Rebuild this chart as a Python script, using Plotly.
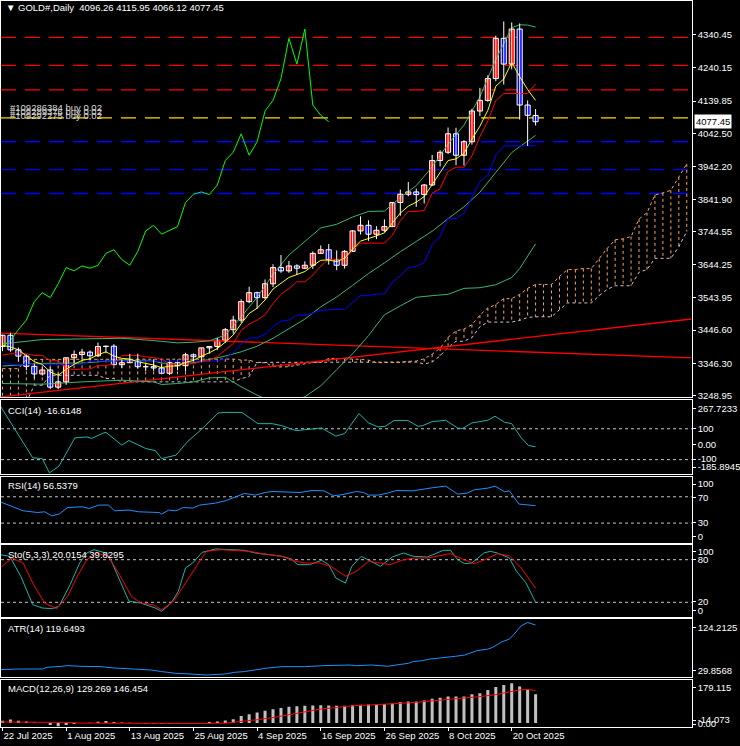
import plotly.graph_objects as go

# ---------------------------------------------------------------- data
dates = ["2025-07-22", "2025-07-23", "2025-07-24", "2025-07-25", "2025-07-28", "2025-07-29", "2025-07-30", "2025-07-31",
         "2025-08-01", "2025-08-04", "2025-08-05", "2025-08-06", "2025-08-07", "2025-08-08", "2025-08-11", "2025-08-12",
         "2025-08-13", "2025-08-14", "2025-08-15", "2025-08-18", "2025-08-19", "2025-08-20", "2025-08-21", "2025-08-22",
         "2025-08-25", "2025-08-26", "2025-08-27", "2025-08-28", "2025-08-29",
         "2025-09-01", "2025-09-02", "2025-09-03", "2025-09-04", "2025-09-05", "2025-09-08", "2025-09-09", "2025-09-10",
         "2025-09-11", "2025-09-12", "2025-09-15", "2025-09-16", "2025-09-17", "2025-09-18", "2025-09-19", "2025-09-22",
         "2025-09-23", "2025-09-24", "2025-09-25", "2025-09-26", "2025-09-29", "2025-09-30",
         "2025-10-01", "2025-10-02", "2025-10-03", "2025-10-06", "2025-10-07", "2025-10-08", "2025-10-09", "2025-10-10",
         "2025-10-13", "2025-10-14", "2025-10-15", "2025-10-16", "2025-10-17", "2025-10-20", "2025-10-21", "2025-10-22",
         "2025-10-23"]

opens = [3397, 3431, 3387, 3368, 3337, 3314, 3326, 3274,
         3290, 3363, 3373, 3380, 3369, 3397, 3398, 3342, 3348, 3356, 3336, 3336, 3332, 3316, 3348, 3339, 3372, 3366,
         3393, 3397, 3416,
         3448, 3477, 3533, 3560, 3545, 3587, 3636, 3626, 3641, 3634, 3643, 3679, 3690, 3660, 3643, 3685, 3747, 3764,
         3737, 3749, 3760, 3833,
         3858, 3865, 3857, 3886, 3960, 3985, 4041, 3976, 4017, 4110, 4142, 4208, 4330, 4252, 4358, 4128, 4096.26]
highs = [3433, 3439, 3394, 3373, 3345, 3334, 3334, 3315,
         3363, 3385, 3390, 3385, 3409, 3400, 3404, 3358, 3375, 3375, 3345, 3358, 3345, 3351, 3350, 3378, 3376, 3393,
         3397, 3423, 3453,
         3490, 3540, 3578, 3563, 3600, 3646, 3674, 3656, 3646, 3655, 3685, 3703, 3707, 3688, 3689, 3749, 3791, 3779,
         3761, 3782, 3834, 3872,
         3895, 3875, 3889, 3977, 3991, 4060, 4059, 4022, 4117, 4180, 4218, 4338, 4381, 4378, 4375, 4142, 4115.95]
lows = [3383, 3381, 3351, 3325, 3301, 3309, 3268, 3268,
        3281, 3346, 3358, 3357, 3365, 3377, 3342, 3332, 3347, 3330, 3323, 3323, 3315, 3311, 3325, 3322, 3352, 3351,
        3375, 3386, 3408,
        3436, 3469, 3528, 3511, 3540, 3577, 3620, 3620, 3614, 3632, 3632, 3679, 3645, 3628, 3633, 3684, 3736, 3717,
        3722, 3744, 3759, 3793,
        3852, 3820, 3830, 3883, 3942, 3980, 3946, 3945, 4008, 4095, 4138, 4200, 4190, 4236, 4084, 4004, 4066.12]
closes = [3431, 3387, 3368, 3337, 3314, 3326, 3274, 3290,
          3363, 3373, 3380, 3369, 3397, 3398, 3342, 3348, 3356, 3336, 3336, 3332, 3316, 3348, 3339, 3372, 3366, 3393,
          3397, 3416, 3448,
          3477, 3533, 3560, 3545, 3587, 3636, 3626, 3641, 3634, 3643, 3679, 3690, 3660, 3643, 3685, 3747, 3764, 3737,
          3749, 3760, 3833, 3858,
          3865, 3857, 3886, 3960, 3985, 4041, 3976, 4017, 4110, 4142, 4208, 4330, 4252, 4358, 4128, 4097, 4077.45]

# moving average (yellow), Ichimoku tenkan (red) / kijun (blue) / chikou (lime)
ma_yellow = [3400, 3396, 3387, 3370, 3351, 3343, 3320, 3310, 3328, 3343, 3355, 3360, 3372, 3381, 3368, 3361, 3359,
             3351, 3346, 3341, 3333, 3338, 3338, 3349, 3355, 3368, 3378, 3391, 3410, 3432, 3466, 3497, 3513, 3538,
             3571, 3589, 3606, 3615, 3624, 3642, 3658, 3659, 3654, 3664, 3692, 3716, 3723, 3732, 3741, 3772, 3801,
             3822, 3834, 3851, 3887, 3920, 3960, 3965, 3982, 4025, 4064, 4112, 4185, 4207, 4257, 4214, 4175, 4142]
tenkan = [3371, 3375, 3375, 3375, 3370, 3370, 3354, 3354, 3331, 3327, 3329, 3329, 3339, 3339, 3345, 3370, 3370,
          3370, 3366, 3363, 3360, 3343, 3343, 3345, 3345, 3352, 3354, 3367, 3388, 3406, 3446, 3465, 3477, 3493,
          3527, 3555, 3572, 3593, 3593, 3613, 3640, 3661, 3661, 3661, 3689, 3710, 3710, 3710, 3710, 3734, 3778,
          3806, 3806, 3809, 3861, 3875, 3927, 3940, 3940, 3974, 4032, 4080, 4141, 4163, 4163, 4163, 4163, 4192]
kijun = [3350, 3343, 3343, 3343, 3343, 3343, 3343, 3343, 3343, 3343, 3343, 3353, 3353, 3353, 3353, 3353, 3353,
         3353, 3353, 3353, 3353, 3353, 3353, 3353, 3353, 3353, 3353, 3353, 3360, 3379, 3404, 3423, 3423, 3434,
         3457, 3474, 3477, 3492, 3492, 3498, 3507, 3509, 3509, 3509, 3530, 3551, 3551, 3556, 3556, 3592, 3611,
         3635, 3640, 3651, 3706, 3730, 3785, 3785, 3800, 3847, 3897, 3916, 3976, 4004, 4004, 4004, 4004, 4005]
chikou = [3397, 3416, 3448, 3477, 3533, 3560, 3545, 3587, 3636, 3626, 3641, 3634, 3643, 3679, 3690, 3660, 3643,
          3685, 3747, 3764, 3737, 3749, 3760, 3833, 3858, 3865, 3857, 3886, 3960, 3985, 4041, 3976, 4017, 4110,
          4142, 4208, 4330, 4252, 4358, 4128, 4097, 4077.45]
# Ichimoku cloud (senkou span A / B, extends into the future)
span_a = [3330, 3330, 3330, 3358, 3358, 3358, 3358, 3358, 3358, 3358, 3358, 3358, 3358, 3358, 3358, 3358, 3358,
          3358, 3358, 3358, 3358, 3358, 3358, 3358, 3358, 3358,
          3360, 3359, 3359, 3359, 3356, 3356, 3348, 3348, 3337, 3335, 3336, 3341, 3346, 3349, 3349, 3361, 3361,
          3361, 3359, 3358, 3356, 3348, 3348, 3349, 3349, 3352, 3353, 3360, 3374, 3392, 3425, 3444, 3450, 3463,
          3492, 3514, 3524, 3542, 3542, 3555, 3573, 3585, 3585, 3585, 3609, 3630, 3630, 3633, 3633, 3663, 3694,
          3720, 3723, 3730, 3783, 3802, 3856, 3862, 3870, 3910, 3950]
span_b = [3228, 3228, 3228, 3228, 3280, 3280, 3310, 3310, 3310, 3310, 3310, 3310, 3310, 3300, 3300, 3290, 3290,
          3290, 3290, 3290, 3290, 3290, 3290, 3290, 3290, 3290, 3290, 3290, 3290, 3290, 3300, 3306,
          3349, 3349, 3349, 3349, 3349, 3349, 3349, 3349, 3349, 3349, 3349, 3349, 3349, 3349, 3349, 3349, 3349,
          3349, 3349, 3349,
          3350, 3344, 3350, 3369, 3394, 3413, 3413, 3424, 3457, 3471, 3471, 3471, 3471, 3476, 3485, 3487, 3487,
          3487, 3508, 3529, 3529, 3529, 3529, 3551, 3570, 3581, 3581, 3581, 3622, 3630, 3664, 3664, 3664, 3699, 3745]
# Bollinger bands (bar number, upper, middle, lower)
bb_bar = [0, 5, 10, 15, 19, 20, 22, 24, 26, 28, 30, 32, 34, 36, 38, 40, 42, 44, 46, 48, 50, 52, 54, 56, 58, 60,
          62, 64, 65, 66, 67]
bb_upper = [3405, 3418, 3420, 3422, 3415, 3412, 3408, 3410, 3414, 3432, 3487, 3546, 3615, 3674, 3715, 3756, 3767,
            3789, 3806, 3807, 3848, 3884, 3941, 4010, 4067, 4153, 4266, 4362, 4371, 4370, 4364]
bb_middle = [3338, 3346, 3347, 3356, 3353, 3347, 3344, 3348, 3358, 3368, 3381, 3398, 3422, 3450, 3480, 3517, 3547,
             3582, 3618, 3650, 3684, 3715, 3746, 3784, 3820, 3864, 3925, 3984, 4002, 4020, 4036]
bb_lower = [3285, 3283, 3290, 3295, 3290, 3282, 3285, 3290, 3302, 3304, 3275, 3250, 3229, 3226, 3245, 3278, 3327,
            3375, 3430, 3493, 3520, 3546, 3551, 3555, 3573, 3575, 3584, 3606, 3633, 3670, 3708]
# trend lines (bar number at the two ends, price)
trend_bar = [-0.19, 86.6]
trend_falling = [3437.7, 3362.7]
trend_rising = [3244.5, 3480.3]
# order / stop / target levels
levels_red = [4332.9, 4247.9, 4173.7]
level_yellow = 4089.3
levels_blue = [4016.9, 3932.5, 3860.2]
order_tickets = ["#109286384 buy 0.02", "#109289376 buy 0.02", "#109292275 buy 0.02"]

# CCI(14)
cci_bar = [-0.3, 1.5, 3.8, 5.0, 5.9, 7.1, 9.1, 10.6, 11.2, 12.7, 13.0, 15.0, 15.9, 18.0, 19.2, 20.0, 21.8, 23.3,
           25.0, 27.1, 28.0, 30.1, 32.1, 33.9, 35.1, 36.9, 38.6, 40.1, 41.9, 43.0, 44.8, 46.0, 47.2, 48.1, 49.2,
           51.0, 52.2, 52.8, 54.0, 55.7, 57.2, 57.8, 59.0, 61.0, 61.9, 63.1, 64.0, 65.2, 66.1, 67.0]
cci = [250, 105, -88, -93, -185.8945, -142, 41, 47, 37, 73, 77, -6, 24, -28, -41, -93, -71, 19, 95, 202, 206, 206,
       133, 133, 120, 88, 95, 105, 52, 69, 198, 138, 112, 116, 153, 153, 116, 120, 146, 155, 105, 101, 138, 155,
       181, 142, 133, 41, -8, -16.6148]
# RSI(14)
rsi_bar = [-0.3, 0.9, 2.6, 4.4, 5.3, 6.2, 7.1, 8.2, 10.0, 10.9, 12.1, 13.3, 14.1, 15.9, 17.1, 19.7, 20.0, 20.9,
           21.8, 22.7, 23.9, 24.8, 26.8, 28.0, 29.2, 30.4, 31.8, 33.0, 33.9, 36.3, 37.4, 38.9, 40.4, 41.6, 42.8,
           44.5, 45.4, 46.0, 47.2, 48.4, 49.5, 51.6, 52.8, 54.0, 55.7, 57.2, 58.4, 59.3, 61.0, 61.9, 63.1, 63.7,
           64.9, 66.1, 67.0]
rsi = [62.4, 56.3, 48.7, 46.1, 47.2, 41.1, 43.7, 53.7, 54.8, 52.2, 57.4, 57.4, 48.7, 49.8, 47.2, 46.1, 43.7, 49.8,
       48.7, 53.7, 52.8, 57.4, 60.4, 63.9, 68.9, 75.0, 72.6, 76.5, 78.1, 76.5, 76.5, 79.6, 79.1, 71.5, 73.5, 78.1,
       76.5, 72.6, 72.6, 75.6, 79.6, 79.1, 81.7, 83.7, 86.3, 74.1, 75.6, 80.6, 83.2, 86.3, 77.6, 79.1, 58.9, 57.8,
       56.5379]
# Stochastic(5,3,3)
sto_main_bar = [-0.3, 0.9, 2.3, 3.8, 5.0, 6.2, 7.1, 8.5, 9.7, 10.6, 11.5, 13.0, 13.6, 14.7, 15.9, 17.4, 19.2,
                20.0, 21.2, 22.1, 23.0, 23.9, 25.1, 26.8, 28.6, 30.4, 31.8, 33.3, 35.1, 36.3, 37.1, 38.6, 40.1,
                41.0, 41.9, 43.1, 43.9, 45.1, 46.3, 47.5, 49.0, 50.4, 51.6, 53.4, 55.4, 56.3, 57.2, 58.1, 59.0,
                60.5, 61.3, 62.2, 63.7, 64.6, 65.8, 67.0]
sto_main = [87, 84.8, 56.6, 16.6, 12, 11, 14.4, 44.8, 75.4, 89.4, 94.1, 89.4, 80, 51.8, 21.4, 19, 12, 7.3, 19,
            35.5, 68.3, 75.4, 90.4, 95.1, 94.1, 93.2, 89.4, 87, 84.8, 81, 73, 73, 79.2, 73, 54.2, 47.2, 70.7, 84.8,
            77.7, 70.7, 83.8, 89.4, 84.8, 83.8, 93.2, 93.2, 80, 74.4, 75.4, 89.4, 91.8, 89.4, 82.4, 63.7, 47.2,
            20.0154]
sto_signal_bar = [-0.3, 1.2, 2.6, 3.8, 5.3, 6.8, 8.2, 9.4, 10.6, 11.8, 13.3, 14.7, 16.2, 17.4, 18.9, 20.0, 21.5,
                  23.0, 24.5, 25.6, 27.4, 29.2, 31.0, 32.7, 35.1, 36.9, 38.0, 39.8, 41.3, 43.1, 44.5, 46.0, 47.5,
                  48.7, 50.4, 51.9, 53.4, 54.8, 56.3, 57.8, 59.3, 60.8, 62.2, 63.7, 65.2, 67.0]
sto_signal = [68.3, 82.4, 75.4, 47.2, 19, 11, 28.5, 56.6, 80, 89.4, 84.8, 58.9, 28.5, 19, 16.6, 9.6, 21.4, 47.2,
              73, 91.8, 94.1, 93.2, 91.8, 88.5, 84.8, 77.7, 75.4, 75.4, 70.7, 56.6, 63.7, 77.7, 75.4, 73, 80, 82.4,
              82.4, 85.6, 88.5, 81, 74.4, 81, 88.5, 85.6, 68.3, 39.8295]
# ATR(14)
atr_bar = [-0.3, 2.0, 5.0, 5.6, 7.4, 8.2, 9.7, 12.4, 14.1, 16.2, 18.6, 20.0, 21.8, 23.6, 25.6, 28.0, 29.2, 30.4,
           31.5, 33.3, 35.1, 38.0, 40.4, 43.6, 44.5, 46.3, 47.5, 48.4, 49.8, 51.0, 51.6, 52.8, 53.7, 54.8, 55.7,
           56.9, 58.1, 59.6, 61.0, 61.6, 62.8, 63.7, 64.3, 65.2, 66.0, 67.0]
atr = [39.5, 40.6, 40.6, 43.7, 45.5, 46.7, 45.5, 44.9, 42.4, 40.6, 38.9, 36.0, 32.9, 31.7, 29.8568, 31.7, 34.7,
       36.0, 38.9, 42.4, 44.9, 44.9, 46.7, 47.8, 46.7, 47.8, 46.7, 45.5, 48.5, 50.8, 53.9, 55.6, 58.5, 59.8, 61.0,
       63.4, 65.7, 73.5, 76.4, 79.5, 89.7, 94.3, 103.3, 118.3, 124.2125, 119.6493]
# MACD(12,26,9): histogram per bar, signal line
macd_hist = [10, 16, 10, 7.5, 3, 0.5, -9, -14.073, -9, -4.5, 0.5, 1, 6, 9, 4.5, 3, 1, -1, -3, -3, -4.5, -3, -3, -3,
             -3, 0, 4.5, 7.5, 12, 17, 32, 40, 48, 55, 62, 68, 73, 76, 78, 79, 80, 79, 78, 78, 80, 82, 83, 84, 86, 88,
             94, 97, 97, 101, 109, 114, 119, 119, 119, 130, 134, 149, 162, 171, 179.115, 165, 150, 129.269]
macd_signal_bar = [-0.3, 5, 8, 10, 14, 18, 22, 25, 28, 29, 30, 32, 34, 36, 38, 40, 42, 44, 46, 48, 50, 52, 54, 56,
                   58, 60, 62, 63, 64, 65, 66, 67]
macd_signal = [5, 5, 3, 0, -1, -2, -3, -2, 0, 3, 7.5, 15, 25, 37, 49, 63, 70, 78, 81, 84, 87, 93, 100, 106, 111,
               119, 128, 135, 145, 149, 151, 146.454]

price_ticks = [4340.45, 4240.15, 4139.85, 4042.50, 3942.20, 3841.90, 3744.55, 3644.25, 3543.95, 3446.60,
               3346.30, 3248.95]
tick_dates = ["2025-07-22", "2025-08-01", "2025-08-13", "2025-08-25", "2025-09-04", "2025-09-16", "2025-09-26",
              "2025-10-08", "2025-10-20"]
tick_labels = ["22 Jul 2025", "1 Aug 2025", "13 Aug 2025", "25 Aug 2025", "4 Sep 2025", "16 Sep 2025",
               "26 Sep 2025", "8 Oct 2025", "20 Oct 2025"]

# ---------------------------------------------------------------- geometry / style
W, H = 740, 746
FONT = "Liberation Sans"
FS = 9.5
X0, X1 = 1.0, 695.5                     # plot area, px
BAR_PX, FIRST_PX = 8.0, 2.5             # bar spacing and first bar position, px
panels = [(1.0, 399.0), (401.5, 476.0), (479.0, 545.0), (547.7, 619.0), (621.7, 680.0), (682.7, 730.0)]
yranges = [(3243.0, 4442.97), (-193.5, 287.0), (0.0, 100.0), (0.0, 100.0), (25.8, 130.1), (-17.9, 193.9)]
xr = [(X0 - FIRST_PX) / BAR_PX, (X1 - FIRST_PX) / BAR_PX]


def py(px):
    return 1 - px / H


def val_at(k, px):
    top, bot = panels[k]
    lo, hi = yranges[k]
    return hi - (px - top) / (bot - top) * (hi - lo)


def ax(k):
    return ("x" if k == 0 else f"x{k + 1}"), ("y" if k == 0 else f"y{k + 1}")


fig = go.Figure()


def add(trace, k):
    xa, ya = ax(k)
    trace.update(xaxis=xa, yaxis=ya, hoverinfo="skip", showlegend=False)
    fig.add_trace(trace)


def line(x, y, color, k, width=1.0, dash=None):
    add(go.Scatter(x=x, y=y, mode="lines", line=dict(color=color, width=width, dash=dash)), k)


idx = list(range(len(dates)))
cloud_idx = list(range(len(span_a)))

# ---- Ichimoku cloud hatch
for up in (True, False):
    hx, hy = [], []
    for i in cloud_idx:
        if (span_a[i] >= span_b[i]) == up:
            hx += [i, i, None]
            hy += [span_a[i], span_b[i], None]
    line(hx, hy, "#F4A460" if up else "#D8BFD8", 0, 1, "3px,3px")
line(cloud_idx, span_b, "#D8BFD8", 0, 1, "3px,3px")
line(cloud_idx, span_a, "#F4A460", 0, 1, "3px,3px")

# ---- trend lines
line(trend_bar, trend_falling, "#FF0000", 0, 1.3)
line(trend_bar, trend_rising, "#FF0000", 0, 1.3)

# ---- Bollinger bands
for band in (bb_upper, bb_middle, bb_lower):
    line(bb_bar, band, "#3CB371", 0, 1)

# ---- Ichimoku lines and MA
line(idx, kijun, "#0000FF", 0, 1)
line(idx, tenkan, "#FF0000", 0, 1)
line(list(range(len(chikou))), chikou, "#00FF00", 0, 1)
line(idx, ma_yellow, "#FFFF00", 0, 1)

# ---- candles
wx, wy = [], []
for i in idx:
    wx += [i, i, None]
    wy += [lows[i], highs[i], None]
line(wx, wy, "white", 0, 1)
add(go.Bar(x=idx, y=[abs(c - o) for o, c in zip(opens, closes)],
           base=[min(o, c) for o, c in zip(opens, closes)], width=0.64,
           marker=dict(color=["#FF0000" if c >= o else "#0000FF" for o, c in zip(opens, closes)],
                       line=dict(color="white", width=1))), 0)

# ---- sub windows
line(cci_bar, cci, "#20B2AA", 1, 1)
line(rsi_bar, rsi, "#1E90FF", 2, 1)
line(sto_main_bar, sto_main, "#20B2AA", 3, 1)
line(sto_signal_bar, sto_signal, "#FF0000", 3, 1)
line(atr_bar, atr, "#1E90FF", 4, 1)
add(go.Bar(x=idx, y=macd_hist, width=0.38, marker=dict(color="#C0C0C0", line=dict(width=0))), 5)
line(macd_signal_bar, macd_signal, "#FF0000", 5, 1)

# ---------------------------------------------------------------- axes
layout = dict(width=W, height=H, margin=dict(l=0, r=0, t=0, b=0), paper_bgcolor="black",
              plot_bgcolor="black", showlegend=False, barmode="overlay",
              font=dict(family=FONT, size=FS, color="white"))
sub_labels = {
    1: (["267.7233", "100", "0.00", "-100", "-185.8945"], [410, 430, 446, 461, 469]),
    2: (["100", "70", "30", "0"], [486, 500, 525, 539]),
    3: (["100", "80", "20", "0"], [554, 562, 604, 613]),
    4: (["124.2125", "29.8568"], [630, 673]),
    5: (["179.115", "-14.073", "0.00"], [690, 723, 727]),
}
for k in range(6):
    xa, ya = ax(k)
    top, bot = panels[k]
    xkey = "xaxis" if k == 0 else f"xaxis{k + 1}"
    ykey = "yaxis" if k == 0 else f"yaxis{k + 1}"
    layout[xkey] = dict(domain=[X0 / W, X1 / W], range=xr, anchor=ya, showgrid=False, zeroline=False,
                        showline=True, mirror=True, linecolor="white", linewidth=1, showticklabels=False,
                        ticks="", fixedrange=True)
    if k == 0:
        tv, tt = price_ticks, [f"{v:.2f}" for v in price_ticks]
    else:
        labs, pxs = sub_labels[k]
        tv, tt = [val_at(k, p) for p in pxs], labs
    layout[ykey] = dict(domain=[py(bot), py(top)], range=list(yranges[k]), anchor=xa, side="right",
                        showgrid=False, zeroline=False, showline=True, mirror=True, linecolor="white",
                        linewidth=1, ticks="outside", ticklen=3, tickcolor="white", tickmode="array",
                        tickvals=tv, ticktext=tt, tickfont=dict(family=FONT, size=FS, color="white"),
                        fixedrange=True)
layout["xaxis6"].update(ticks="outside", ticklen=3, tickcolor="white", showticklabels=True,
                        tickmode="array", tickvals=[dates.index(d) for d in tick_dates], ticktext=tick_labels,
                        ticklabelposition="outside right", tickfont=dict(family=FONT, size=FS, color="white"))
fig.update_layout(**layout)

# ---------------------------------------------------------------- level lines
xp0, xp1 = X0 / W, X1 / W
for lv in levels_red:
    fig.add_shape(type="line", xref="paper", x0=xp0, x1=xp1, yref="y", y0=lv, y1=lv, layer="below",
                  line=dict(color="#FF0000", width=1.2, dash="15px,9px"))
fig.add_shape(type="line", xref="paper", x0=xp0, x1=xp1, yref="y", y0=level_yellow, y1=level_yellow,
              layer="below", line=dict(color="#FFD700", width=1.2, dash="15px,9px"))
for lv in levels_blue:
    fig.add_shape(type="line", xref="paper", x0=xp0, x1=xp1, yref="y", y0=lv, y1=lv, layer="below",
                  line=dict(color="#0000FF", width=1.4, dash="15px,9px"))
for yref, lv in (("y2", 100), ("y2", -100), ("y3", 70), ("y3", 30), ("y4", 80), ("y4", 20)):
    fig.add_shape(type="line", xref="paper", x0=xp0, x1=xp1, yref=yref, y0=lv, y1=lv, layer="below",
                  line=dict(color="#C8C8C8", width=1, dash="3px,3px"))


# ---------------------------------------------------------------- texts
def note(text, xpx, ypx, color="white", **kw):
    fig.add_annotation(text=text, xref="paper", yref="paper", x=xpx / W, y=py(ypx), xanchor="left",
                       yanchor="middle", showarrow=False, font=dict(family=FONT, size=FS, color=color), **kw)


note("\u25BC GOLD#,Daily  " + " ".join(f"{v:.2f}" for v in (opens[-1], highs[-1], lows[-1], closes[-1])),
     4, 8)
for t, ypx in zip(order_tickets, (107.5, 111.5, 115.5)):
    note(t, 8, ypx, color="#D8D8D8")
note(f"CCI(14) {cci[-1]:.4f}", 6, 412)
note(f"RSI(14) {rsi[-1]:.4f}", 6, 487)
note(f"Sto(5,3,3) {sto_main[-1]:.4f} {sto_signal[-1]:.4f}", 6, 557)
note(f"ATR(14) {atr[-1]:.4f}", 6, 631)
note(f"MACD(12,26,9) {macd_hist[-1]:.3f} {macd_signal[-1]:.3f}", 6, 691)
fig.add_annotation(text=f"{closes[-1]:.2f}", xref="paper", yref="y", x=697.5 / W, y=closes[-1],
                   xanchor="left", yanchor="middle", showarrow=False, bgcolor="white", borderpad=1,
                   font=dict(family=FONT, size=FS, color="black"))

fig.write_html("out.html", config={"displayModeBar": False, "staticPlot": True},
               post_script="document.body.style.margin='0px';")
